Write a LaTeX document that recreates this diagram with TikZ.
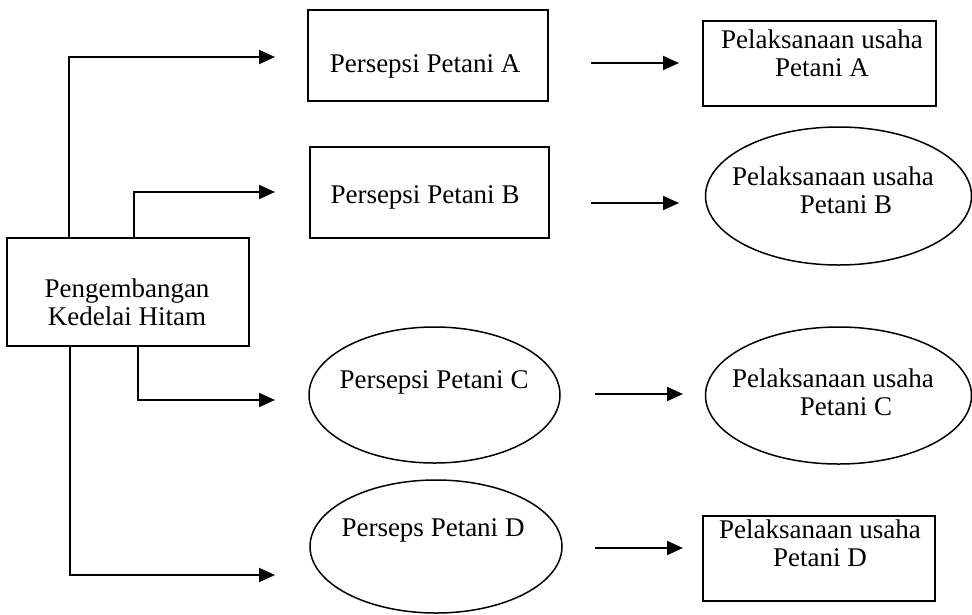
\documentclass[tikz,border=0pt]{standalone}
\usepackage{fontspec}
\setmainfont{Liberation Serif}
\usetikzlibrary{shapes.geometric,arrows.meta}
\begin{document}
\begin{tikzpicture}[x=1pt,y=-1pt,
  line width=1.9pt,
  boxnode/.style={draw,rectangle,inner sep=0pt},
  ellnode/.style={draw,ellipse,inner sep=0pt,line width=1.5pt},
  txt/.style={font=\fontsize{27}{28}\selectfont,align=center,anchor=base,inner sep=0pt},
  arr/.style={-{Triangle[length=16pt,width=14pt]}}]
\useasboundingbox (0,0) rectangle (972,614);
% boxes and ellipses
\node[boxnode,minimum width=242pt,minimum height=108pt] (main) at (128,292) {};
\node[boxnode,minimum width=240pt,minimum height=91pt] (pa) at (428,55.5) {};
\node[boxnode,minimum width=239pt,minimum height=91pt] (pb) at (429.5,192.5) {};
\node[ellnode,minimum width=251pt,minimum height=136pt] (pc) at (434.5,395) {};
\node[ellnode,minimum width=252pt,minimum height=133pt] (pd) at (436,546.5) {};
\node[boxnode,minimum width=233pt,minimum height=85pt] (la) at (819.5,63.5) {};
\node[ellnode,minimum width=266pt,minimum height=138pt] (lb) at (838.5,196) {};
\node[ellnode,minimum width=266pt,minimum height=137pt] (lc) at (838.5,395.5) {};
\node[boxnode,minimum width=232pt,minimum height=85pt] (ld) at (819,558.5) {};
% texts (base = baseline of last line)
\node[txt] (tmain) at (127,325) {Pengembangan\\Kedelai Hitam};
\node[txt] (tpa) at (425,72) {Persepsi Petani A};
\node[txt] (tpb) at (425,203) {Persepsi Petani B};
\node[txt] (tpc) at (434,388) {Persepsi Petani C};
\node[txt] (tpd) at (433,536) {Perseps Petani D};
\node[txt] (tla) at (822,76) {Pelaksanaan usaha\\Petani A};
\node[txt] (tlb) at (833,213) {Pelaksanaan usaha\\\hspace*{26pt}Petani B};
\node[txt] (tlc) at (833,415) {Pelaksanaan usaha\\\hspace*{26pt}Petani C};
\node[txt] (tld) at (820,566) {Pelaksanaan usaha\\Petani D};
% arrow end points
\coordinate (ea) at (275,57);
\coordinate (eb) at (275,192);
\coordinate (ec) at (275,400);
\coordinate (ed) at (275,575);
\coordinate (a1) at (591,63);  \coordinate (a2) at (679,63);
\coordinate (b1) at (591,203); \coordinate (b2) at (679,203);
\coordinate (c1) at (595,394); \coordinate (c2) at (683,394);
\coordinate (d1) at (595,548); \coordinate (d2) at (683,548);
% connectors
\draw[arr] ([xshift=63pt]main.north west) |- (ea);
\draw[arr] ([xshift=128pt]main.north west) |- (eb);
\draw[arr] ([xshift=132pt]main.south west) |- (ec);
\draw[arr] ([xshift=64pt]main.south west) |- (ed);
\draw[arr] (a1) -- (a2);
\draw[arr] (b1) -- (b2);
\draw[arr] (c1) -- (c2);
\draw[arr] (d1) -- (d2);
\end{tikzpicture}
\end{document}
